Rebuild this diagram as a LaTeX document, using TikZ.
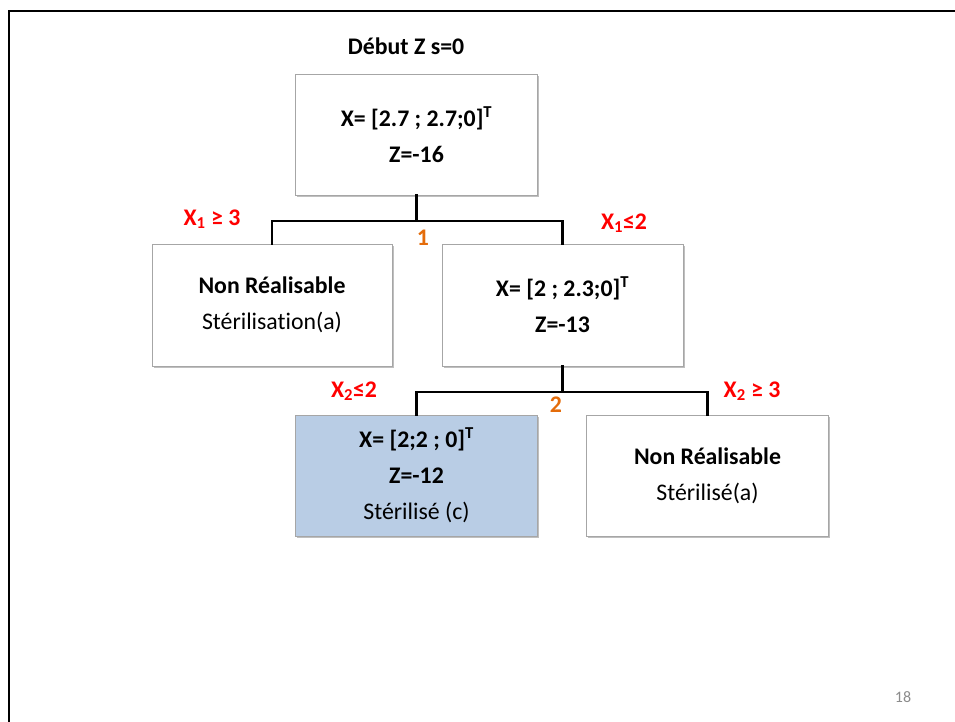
\documentclass[tikz,border=0pt]{standalone}
\usepackage{fontspec}
\setmainfont[Ligatures=NoCommon]{Carlito}
\usetikzlibrary{shadows}
\definecolor{lblred}{HTML}{FF0000}
\definecolor{lblorange}{HTML}{E46C0A}
\definecolor{boxblue}{HTML}{B9CDE5}
\definecolor{boxgray}{HTML}{A6A6A6}
\definecolor{pagegray}{HTML}{8C8C8C}
\tikzset{
  treebox/.style={draw=boxgray, line width=0.8pt, fill=white, minimum width=242pt, minimum height=121pt,
    inner sep=0pt, outer sep=0pt, align=center, font=\fontsize{23.8}{36}\selectfont,
    drop shadow={shadow xshift=1.5pt, shadow yshift=-2pt, fill=black, opacity=0.25}},
  conn/.style={line width=2.2pt, line cap=rect},
  branchlbl/.style={text=lblred, font=\fontsize{23.8}{28}\selectfont\bfseries, anchor=base, inner sep=0pt},
  steplbl/.style={text=lblorange, font=\fontsize{23.8}{28}\selectfont\bfseries, anchor=base, inner sep=0pt},
  titlelbl/.style={font=\fontsize{23.8}{28}\selectfont\bfseries, anchor=base, inner sep=0pt}
}
\begin{document}
\begin{tikzpicture}[x=1pt,y=-1pt]
\useasboundingbox (0,0) rectangle (955,722);
\fill[white] (0,0) rectangle (955,722);
\draw[line width=2pt] (9,722) -- (9,11) -- (955,11);

\node[titlelbl] (title) at (406,55) {Début Z s=0};

\node[treebox] (root) at (416.5,135) {\bfseries X= [2.7 ; 2.7;0]\textsuperscript{T}\\ \bfseries Z=-16};
\node[treebox, minimum width=240pt, minimum height=122pt] (left) at (272,305) {\bfseries Non Réalisable\\ Stérilisation(a)};
\node[treebox, minimum width=241pt, minimum height=122pt] (right) at (562.5,305) {\bfseries X= [2 ; 2.3;0]\textsuperscript{T}\\ \bfseries Z=-13};
\node[treebox, fill=boxblue] (blue) at (416.5,475.5) {\bfseries X= [2;2 ; 0]\textsuperscript{T}\\ \bfseries Z=-12\\ Stérilisé (c)};
\node[treebox] (lowright) at (707.5,475.5) {\bfseries Non Réalisable\\ Stérilisé(a)};

\coordinate (j1) at (416.5,221);
\coordinate (j2) at (562.5,392);
\draw[conn] (root.south) -- (j1);
\draw[conn] (left.north) |- (j1) -| (right.north);
\draw[conn] (right.south) -- (j2);
\draw[conn] (blue.north) |- (j2) -| (lowright.north);

\node[branchlbl] (b1) at (212,225) {X\textsubscript{1} ≥ 3};
\node[branchlbl] (b2) at (624,229) {X\textsubscript{1}≤2};
\node[branchlbl] (b3) at (354,397) {X\textsubscript{2}≤2};
\node[branchlbl] (b4) at (752,397) {X\textsubscript{2} ≥ 3};
\node[steplbl] (s1) at (423,245) {1};
\node[steplbl] (s2) at (556,412) {2};

\node[text=pagegray, font=\fontsize{16}{18}\selectfont, anchor=base, inner sep=0pt] (page) at (903,702) {18};
\end{tikzpicture}
\end{document}
